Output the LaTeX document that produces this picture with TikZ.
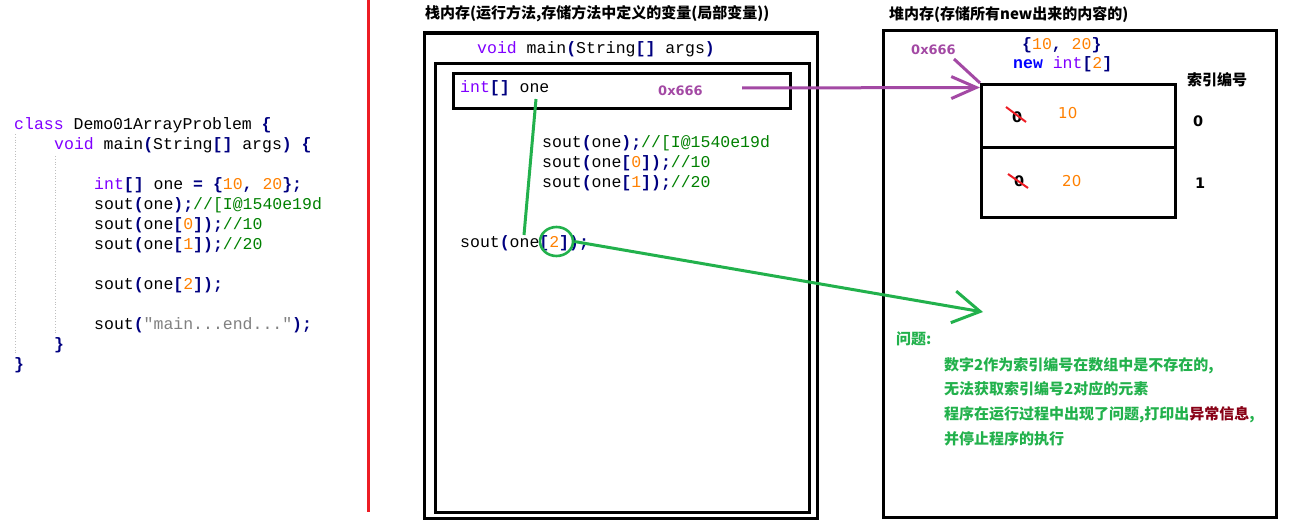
\documentclass[tikz,border=0pt]{standalone}
\usepackage{fontspec}
\setmainfont{DejaVu Sans}
\setmonofont{Liberation Mono}
\newfontfamily\cjk{Noto Sans CJK SC}
\newfontfamily\labelfont{DejaVu Sans}
\usetikzlibrary{arrows.meta,shapes.geometric}

% syntax colours of the code listings
\definecolor{kwpurple}{RGB}{128,0,255}
\definecolor{kwblue}{RGB}{0,0,255}
\definecolor{opnavy}{RGB}{0,0,128}
\definecolor{numorange}{RGB}{255,128,0}
\definecolor{cmtgreen}{RGB}{0,128,0}
\definecolor{strgray}{RGB}{128,128,128}
% annotation colours
\definecolor{notegreen}{RGB}{34,177,76}
\definecolor{notepurple}{RGB}{163,73,164}
\definecolor{alertred}{RGB}{237,28,36}
\definecolor{darkred}{RGB}{136,0,21}
\definecolor{guidegray}{RGB}{190,190,190}

\newcommand\codekw[1]{\textcolor{kwpurple}{#1}}
\newcommand\codenew[1]{\textcolor{kwblue}{\bfseries #1}}
\newcommand\codeop[1]{\textcolor{opnavy}{\bfseries #1}}
\newcommand\codenum[1]{\textcolor{numorange}{#1}}
\newcommand\codecmt[1]{\textcolor{cmtgreen}{#1}}
\newcommand\codestr[1]{\textcolor{strgray}{#1}}

\tikzset{
  codetext/.style={anchor=base west, inner sep=0pt, text=black,
    font=\ttfamily\fontsize{16.5}{20}\selectfont},
  frame/.style={draw, line width=3.3pt, anchor=north west, inner sep=0pt},
  areatitle/.style={anchor=base west, inner sep=0pt,
    font=\cjk\bfseries\fontsize{15}{18}\selectfont},
  addr/.style={anchor=base west, inner sep=0pt, text=notepurple,
    font=\labelfont\bfseries\fontsize{13}{15}\selectfont},
  idxnum/.style={anchor=base west, inner sep=0pt,
    font=\labelfont\bfseries\fontsize{14.5}{17}\selectfont},
  cellval/.style={anchor=base west, inner sep=0pt, text=numorange,
    font=\labelfont\fontsize{15}{18}\selectfont},
  note/.style={anchor=base west, inner sep=0pt, text=notegreen,
    font=\cjk\bfseries\fontsize{15}{18}\selectfont},
  guide/.style={guidegray, line width=0.8pt, dotted},
  refline/.style={notepurple, line width=3pt},
  idxline/.style={notegreen, line width=3pt},
  strike/.style={alertred, line width=2pt},
}

\begin{document}
\begin{tikzpicture}[x=1pt,y=-1pt]
\useasboundingbox (0,0) rectangle (1289,519);

% ---------- source listing ----------
\draw[guide] (15,134) -- (15,353);
\draw[guide] (55,156) -- (55,333);
\node[codetext] (c1) at (14,129) {\codekw{class} Demo01ArrayProblem \codeop{\{}};
\node[codetext] (c2) at (54,149) {\codekw{void} main\codeop{(}String\codeop{[]} args\codeop{)} \codeop{\{}};
\node[codetext] (c3) at (94,189) {\codekw{int}\codeop{[]} one \codeop{=} \codeop{\{}\codenum{10}\codeop{,} \codenum{20}\codeop{\};}};
\node[codetext] (c4) at (94,209) {sout\codeop{(}one\codeop{);}\codecmt{//[I@1540e19d}};
\node[codetext] (c5) at (94,229) {sout\codeop{(}one\codeop{[}\codenum{0}\codeop{]);}\codecmt{//10}};
\node[codetext] (c6) at (94,249) {sout\codeop{(}one\codeop{[}\codenum{1}\codeop{]);}\codecmt{//20}};
\node[codetext] (c7) at (94,289) {sout\codeop{(}one\codeop{[}\codenum{2}\codeop{]);}};
\node[codetext] (c8) at (94,329) {sout\codeop{(}\codestr{"main...end..."}\codeop{);}};
\node[codetext] (c9) at (54,349) {\codeop{\}}};
\node[codetext] (c10) at (14,369) {\codeop{\}}};

% separator
\draw[alertred, line width=3pt] (368,0) -- (368,512);

% ---------- stack ----------
\node[areatitle] (stacktitle) at (425,19) {栈内存(运行方法,存储方法中定义的变量(局部变量))};
\node[frame, minimum width=393pt, minimum height=485.5pt] (stack) at (423,31.5) {};
\node[codetext] (mainsig) at (477,54) {\codekw{void} main\codeop{(}String\codeop{[]} args\codeop{)}};
\node[frame, minimum width=374pt, minimum height=449pt] (mainframe) at (434,62) {};
\node[frame, minimum width=337pt, minimum height=35pt] (varbox) at (452,72) {};
\node[codetext] (vardecl) at (460,92) {\codekw{int}\codeop{[]} one};
\node[addr] (addrstack) at (658,95.5) {0x666};
\node[codetext] (s1) at (542,147) {sout\codeop{(}one\codeop{);}\codecmt{//[I@1540e19d}};
\node[codetext] (s2) at (542,167) {sout\codeop{(}one\codeop{[}\codenum{0}\codeop{]);}\codecmt{//10}};
\node[codetext] (s3) at (542,187) {sout\codeop{(}one\codeop{[}\codenum{1}\codeop{]);}\codecmt{//20}};
\node[codetext] (s4) at (460,247) {sout\codeop{(}one\codeop{[}\codenum{2}\codeop{]);}};
\node[draw=notegreen, line width=2.6pt, ellipse, minimum width=33pt, minimum height=29pt, inner sep=0pt] (idx) at (556.5,241.5) {};

% ---------- heap ----------
\node[areatitle] (heaptitle) at (889,19.5) {堆内存(存储所有new出来的内容的)};
\node[frame, minimum width=393pt, minimum height=487pt] (heap) at (882,29) {};
\node[addr] (addrheap) at (911,55) {0x666};
\node[codetext] (init) at (1022,50) {\codeop{\{}\codenum{10}\codeop{,} \codenum{20}\codeop{\}}};
\node[codetext] (alloc) at (1013,68) {\codenew{new} \codekw{int}\codeop{[}\codenum{2}\codeop{]}};
\node[frame, minimum width=194pt, minimum height=63pt] (cell0) at (980,83) {};
\node[frame, minimum width=194pt, minimum height=70pt] (cell1) at (980,146) {};
\node[areatitle] (idxtitle) at (1187,85.5) {索引编号};
\node[idxnum] (i0) at (1193,126) {0};
\node[idxnum] (i1) at (1195,188) {1};
\node[idxnum] (z0) at (1012,122) {0};
\node[idxnum] (z1) at (1014,186) {0};
\draw[strike] (1006,107) -- (1026,122);
\draw[strike] (1008,174) -- (1028,188);
\node[cellval] (v0) at (1058,118) {10};
\node[cellval] (v1) at (1062,186) {20};

% ---------- note ----------
\node[note] (q) at (896,344) {问题:};
\node[note] (q1) at (944,370) {数字2作为索引编号在数组中是不存在的,};
\node[note] (q2) at (944,394.5) {无法获取索引编号2对应的元素};
\node[note] (q3) at (944,419.5) {程序在运行过程中出现了问题,打印出\textcolor{darkred}{异常信息},};
\node[note] (q4) at (944,444) {并停止程序的执行};

% ---------- connectors ----------
\coordinate (refstart) at (742,88);
\coordinate (reftip) at (980,87.5);
\coordinate (heaplabel) at (954,59);
\draw[refline, -{Straight Barb[length=25pt,width=22pt]}] (refstart) -- (reftip);
\draw[refline] (heaplabel) -- (cell0.north west);

\coordinate (onefoot) at (536,99);
\coordinate (useline) at (524,235);
\draw[idxline] (onefoot) -- (useline);
\coordinate (notetip) at (983,312);
\draw[idxline, -{Straight Barb[length=27pt,width=32pt]}] (idx.east) -- (notetip);
\end{tikzpicture}
\end{document}
